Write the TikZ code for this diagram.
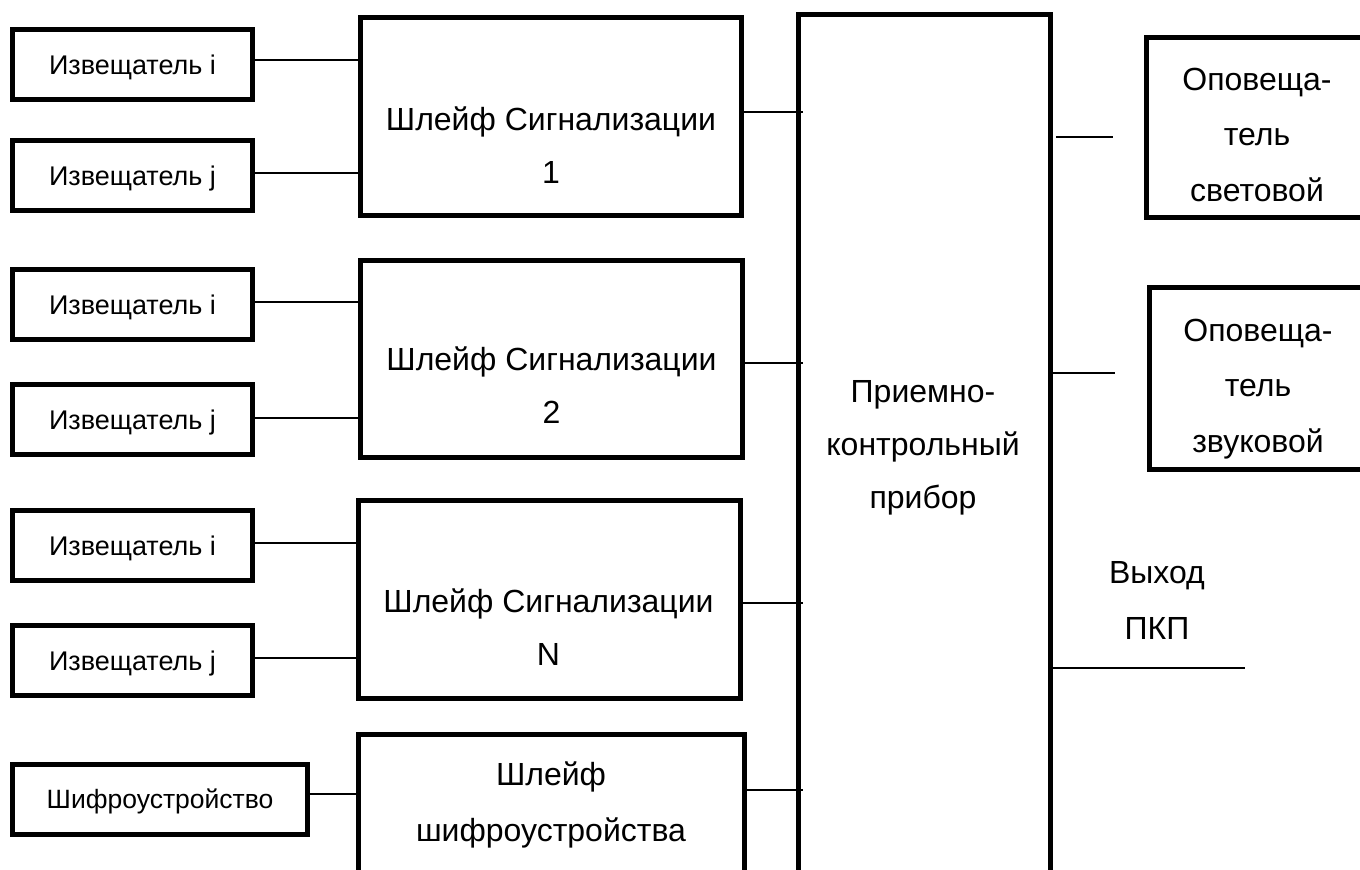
\documentclass[tikz,border=0pt]{standalone}
\usepackage{fontspec}
\setmainfont{Liberation Sans}
\usetikzlibrary{calc}
\begin{document}
\begin{tikzpicture}[x=1pt,y=-1pt,
 box/.style={draw, line width=5pt, inner sep=0pt, outer sep=0pt, rectangle},
 sensor/.style={box, minimum width=240pt, minimum height=70pt, font=\fontsize{27}{30}\selectfont, text height=20pt, text depth=0pt},
 wire/.style={line width=2pt},
 lbl/.style={anchor=base, align=center, inner sep=0pt, font=\fontsize{32}{53}\selectfont},
 lblw/.style={lbl, font=\fontsize{32}{55.5}\selectfont},
]
\useasboundingbox (0,0) rectangle (1360,870);
\clip (0,0) rectangle (1360,870);
\fill[white] (0,0) rectangle (1360,870);

% sensors
\node[sensor] (s1) at (132.5,64.5) {Извещатель i};
\node[sensor] (s2) at (132.5,175) {Извещатель j};
\node[sensor] (s3) at (132.5,304.5) {Извещатель i};
\node[sensor] (s4) at (132.5,419) {Извещатель j};
\node[sensor] (s5) at (132.5,545) {Извещатель i};
\node[sensor] (s6) at (132.5,660.5) {Извещатель j};
\node[sensor, minimum width=295pt, font=\fontsize{26.5}{30}\selectfont, text height=18pt] (shifr) at (160,799.5) {Шифроустройство};

% loops
\node[box, minimum width=381.5pt, minimum height=197.5pt] (L1) at (550.75,116.25) {};
\node[box, minimum width=382.5pt, minimum height=196.5pt] (L2) at (551.25,358.75) {};
\node[box, minimum width=382pt, minimum height=197.5pt] (LN) at (549,599.25) {};
\node[box, minimum width=386.5pt, minimum height=137.5pt] (LS) at (551.25,803.25) {};

% control unit
\node[box, minimum width=252pt, minimum height=885.5pt] (PKP) at (924.5,457.25) {};

% annunciators
\node[box, minimum width=221.5pt, minimum height=180pt] (R1) at (1257.25,127.5) {};
\node[box, minimum width=218.5pt, minimum height=182pt] (R2) at (1258.75,378.5) {};

% texts (anchor = baseline of last line)
\node[lbl] (t1) at (551,183) {Шлейф Сигнализации\\1};
\node[lbl] (t2) at (551.5,423) {Шлейф Сигнализации\\2};
\node[lbl] (tN) at (548.5,665) {Шлейф Сигнализации\\N};
\node[lblw] (tS) at (551,841) {Шлейф\\шифроустройства};
\node[lbl] (tP) at (923,508) {Приемно-\\контрольный\\прибор};
\node[lblw] (tR1) at (1257,201) {Оповеща-\\тель\\световой};
\node[lblw] (tR2) at (1258,452) {Оповеща-\\тель\\звуковой};
\node[lblw] (tO) at (1157,639) {Выход\\ПКП};

% connectors
\draw[wire] (s1.east) ++(0,-4.5) coordinate (c1) -- (c1 -| L1.west);
\draw[wire] (s2.east) ++(0,-2) coordinate (c2) -- (c2 -| L1.west);
\draw[wire] (s3.east) ++(0,-3) coordinate (c3) -- (c3 -| L2.west);
\draw[wire] (s4.east) ++(0,-1) coordinate (c4) -- (c4 -| L2.west);
\draw[wire] (s5.east) ++(0,-2) coordinate (c5) -- (c5 -| LN.west);
\draw[wire] (s6.east) ++(0,-2.5) coordinate (c6) -- (c6 -| LN.west);
\draw[wire] (shifr.east) ++(0,-5.5) coordinate (c7) -- (c7 -| LS.west);
\draw[wire, shorten >=-4.5pt] (L1.east) ++(0,-4) coordinate (c8) -- (c8 -| PKP.west);
\draw[wire, shorten >=-4.5pt] (L2.east) ++(0,4.25) coordinate (c9) -- (c9 -| PKP.west);
\draw[wire, shorten >=-4.5pt] (LN.east) ++(0,3.75) coordinate (c10) -- (c10 -| PKP.west);
\draw[wire, shorten >=-4.5pt] (LS.east) ++(0,-13.25) coordinate (c11) -- (c11 -| PKP.west);
\draw[wire, shorten <=5.5pt, shorten >=33.5pt] (R1.west) ++(0,9.5) coordinate (c12) (c12 -| PKP.east) -- (c12);
\draw[wire, shorten >=34.5pt] (R2.west) ++(0,-5.5) coordinate (c13) (c13 -| PKP.east) -- (c13);
\coordinate (outEnd) at (1245,668);
\draw[wire] (outEnd -| PKP.east) -- (outEnd);
\end{tikzpicture}
\end{document}
